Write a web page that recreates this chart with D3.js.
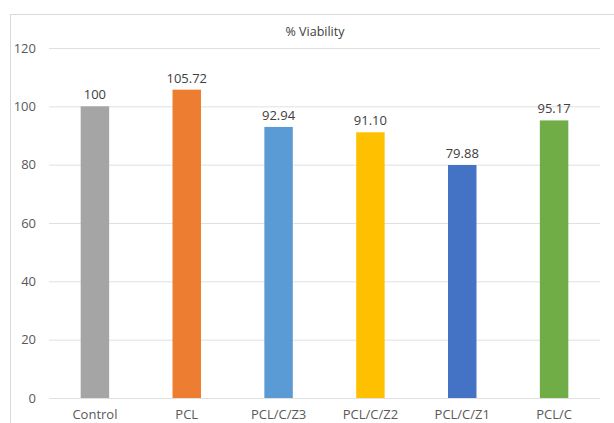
<!DOCTYPE html>
<html>
<head>
<meta charset="utf-8">
<script src="https://cdn.jsdelivr.net/npm/d3@7"></script>
<style>
  body { margin: 0; background: #fff; }
  text { font-family: "Open Sans", "Liberation Sans", sans-serif; }
</style>
</head>
<body>
<svg id="chart" width="614" height="423"></svg>
<script>
const categories = ["Control", "PCL", "PCL/C/Z3", "PCL/C/Z2", "PCL/C/Z1", "PCL/C"];
const viability = [100, 105.72, 92.94, 91.10, 79.88, 95.17];
const valueLabels = ["100", "105.72", "92.94", "91.10", "79.88", "95.17"];
const barColors = ["#A5A5A5", "#ED7D31", "#5B9BD5", "#FFC000", "#4472C4", "#70AD47"];
const yTicks = [0, 20, 40, 60, 80, 100, 120];

const margin = { top: 48, right: 14, bottom: 25, left: 49 };
const width = 614, height = 423;

const svg = d3.select("#chart");

// chart frame (Excel style border, cut off at right/bottom)
svg.append("rect")
  .attr("x", 10.5).attr("y", 14.5)
  .attr("width", 640).attr("height", 440)
  .attr("fill", "none")
  .attr("stroke", "#d9d9d9");

const xScale = d3.scaleBand()
  .domain(categories)
  .range([margin.left, width - margin.right])
  .paddingInner(0.69)
  .paddingOuter(0.345);

const yScale = d3.scaleLinear()
  .domain([0, 120])
  .range([height - margin.bottom, margin.top]);

// gridlines + y labels
const yAxis = d3.axisLeft(yScale)
  .tickValues(yTicks)
  .tickSize(-(width - margin.left - margin.right))
  .tickPadding(13);

svg.append("g")
  .attr("transform", `translate(${margin.left},0)`)
  .call(yAxis)
  .call(g => g.select(".domain").remove())
  .call(g => g.selectAll(".tick line").attr("stroke", "#e0e0e0"))
  .call(g => g.selectAll(".tick text")
    .attr("fill", "#595959")
    .style("font-size", "13px"));

// bars
svg.append("g")
  .selectAll("rect")
  .data(viability)
  .join("rect")
  .attr("x", (d, i) => xScale(categories[i]))
  .attr("y", d => yScale(d))
  .attr("width", xScale.bandwidth())
  .attr("height", d => yScale(0) - yScale(d))
  .attr("fill", (d, i) => barColors[i]);

// value labels
svg.append("g")
  .selectAll("text")
  .data(viability)
  .join("text")
  .attr("x", (d, i) => xScale(categories[i]) + xScale.bandwidth() / 2)
  .attr("y", d => yScale(d) - 7)
  .attr("text-anchor", "middle")
  .attr("fill", "#404040")
  .style("font-size", "13px")
  .text((d, i) => valueLabels[i]);

// x axis labels
const xAxis = d3.axisBottom(xScale).tickSize(0).tickPadding(12);
svg.append("g")
  .attr("transform", `translate(0,${yScale(0)})`)
  .call(xAxis)
  .call(g => g.select(".domain").remove())
  .call(g => g.selectAll(".tick text")
    .attr("fill", "#595959")
    .style("font-size", "13px"));

// title
svg.append("text")
  .attr("x", 315)
  .attr("y", 36)
  .attr("text-anchor", "middle")
  .attr("fill", "#404040")
  .style("font-size", "12.5px")
  .text("% Viability");
</script>
</body>
</html>
